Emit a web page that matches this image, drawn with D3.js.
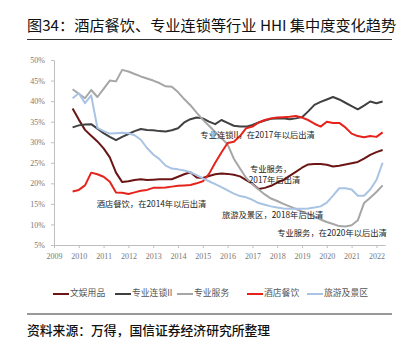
<!DOCTYPE html>
<html><head><meta charset="utf-8">
<script src="https://cdn.jsdelivr.net/npm/d3@7"></script>
<style>
body{margin:0;background:#fff;}
text{font-family:"Noto Sans CJK SC","Noto Sans",sans-serif;}
</style></head>
<body><svg id="c" width="411" height="348"></svg>
<script>
const startYear = 2009.75, step = 0.25;
const seriesNames = ["文娱用品","专业连锁II","专业服务","酒店餐饮","旅游及景区"];
const seriesColors = ["#6b1515","#404040","#a6a6a6","#e5231b","#a8c3e3"];
const wenyu = [38.2,35.5,33.0,31.6,30.2,28.5,26.3,22.6,20.3,20.5,20.8,21.0,20.8,20.9,21.0,21.0,21.0,21.6,22.2,22.7,21.4,21.3,21.8,22.2,22.4,22.3,22.1,21.7,20.8,19.9,18.6,18.9,19.4,20.2,20.8,21.8,22.8,23.8,24.6,24.7,24.7,24.5,24.1,24.3,24.6,24.9,25.2,26.0,26.9,27.6,28.1];
const zhuanyeLiansuo = [33.6,34.1,34.3,34.4,33.3,32.2,31.3,30.5,31.3,32.0,32.7,33.2,33.0,32.9,32.7,32.6,32.9,33.4,34.8,35.6,36.0,35.8,35.0,34.4,35.4,34.7,34.0,33.8,33.8,34.2,34.8,35.3,35.7,35.8,35.8,35.6,35.8,36.1,37.5,39.1,39.8,40.4,41.0,40.4,39.6,38.8,38.0,38.9,39.9,39.5,39.9];
const zhuanyeFuwu = [42.9,41.8,40.7,42.7,41.0,43.0,45.0,44.8,47.6,47.2,46.6,46.0,45.5,45.0,44.4,43.6,43.5,42.2,40.5,39.0,37.2,35.5,34.0,32.5,31.0,29.5,26.0,23.6,21.3,19.8,18.5,17.3,16.3,15.7,15.0,14.4,13.8,13.1,12.5,11.9,11.2,10.6,10.1,9.6,9.5,9.8,11.0,15.2,16.5,17.9,19.5];
const jiudian = [18.0,18.4,19.5,22.6,22.2,21.6,20.4,17.8,17.7,17.4,17.8,18.2,18.4,18.9,18.9,19.0,19.2,19.4,19.5,19.6,20.0,20.5,22.3,25.0,27.5,29.8,30.1,31.5,33.4,33.8,34.8,35.4,35.8,36.0,36.1,36.2,36.4,36.0,35.4,34.5,33.8,35.0,34.7,34.7,33.6,32.1,31.5,31.2,31.5,31.3,32.4];
const lvyou = [40.7,41.9,39.5,41.4,33.5,32.7,32.1,32.2,32.3,32.2,31.7,30.6,28.6,27.0,25.9,24.3,23.6,23.4,23.1,22.7,22.0,21.2,20.5,19.8,19.1,18.3,17.5,16.9,16.6,16.0,15.2,14.8,14.4,14.1,13.9,13.8,13.8,13.8,13.9,14.1,14.4,15.3,17.0,18.8,18.8,18.5,17.0,17.0,18.5,20.8,25.0];
const yearTicks = [2009,2010,2011,2012,2013,2014,2015,2016,2017,2018,2019,2020,2021,2022];
const yTicks = [5,10,15,20,25,30,35,40,45,50];
const annotations = [
  {text:"专业连锁II，在2017年以后出清", t:2014.9, v:31.5},
  {text:"专业服务，", t:2016.9, v:23.4},
  {text:"2017年后出清", t:2016.85, v:20.7},
  {text:"酒店餐饮，在2014年以后出清", t:2010.72, v:14.7},
  {text:"旅游及景区，2018年后出清", t:2015.77, v:12.0},
  {text:"专业服务，在2020年以后出清", t:2018.0, v:7.7}
];
const allSeries = [wenyu, zhuanyeLiansuo, zhuanyeFuwu, jiudian, lvyou];

const svg = d3.select("#c");
const x = d3.scaleLinear().domain([2009, 2022.35]).range([54, 385.1]);
const y = d3.scaleLinear().domain([5, 50]).range([245, 60]);

// title
svg.append("text").attr("x",27).attr("y",30.5).attr("font-size",15.2).attr("fill","#111")
  .text("图34：酒店餐饮、专业连锁等行业 HHI 集中度变化趋势");
svg.append("line").attr("x1",27).attr("x2",392).attr("y1",39.5).attr("y2",39.5).attr("stroke","#333").attr("stroke-width",1);

// axes
const axisColor = "#bfbfbf";
const xa = svg.append("g").attr("transform","translate(0,245)")
  .call(d3.axisBottom(x).tickValues(yearTicks).tickFormat(d3.format("d")).tickSize(3).tickSizeOuter(0));
xa.selectAll("path,line").attr("stroke",axisColor);
xa.selectAll("text").attr("fill","#777").attr("font-size",8).attr("dy","1.0em")
  .style("font-family","'Liberation Serif','DejaVu Serif',serif");
const ya = svg.append("g").attr("transform","translate(54,0)")
  .call(d3.axisLeft(y).tickValues(yTicks).tickFormat(d=>d+"%").tickSize(3).tickSizeOuter(0));
ya.selectAll("path,line").attr("stroke",axisColor);
ya.selectAll("text").attr("fill","#777").attr("font-size",8).attr("dx","-3")
  .style("font-family","'Liberation Serif','DejaVu Serif',serif");

// lines
const line = d3.line().x((d,i)=>x(startYear+i*step)).y(d=>y(d));
allSeries.forEach((s,k)=>{
  svg.append("path").datum(s).attr("d",line).attr("fill","none")
    .attr("stroke",seriesColors[k]).attr("stroke-width",2).attr("stroke-linejoin","round");
});

// annotations
annotations.forEach(a=>{
  svg.append("text").attr("x",x(a.t)).attr("y",y(a.v)).attr("font-size",8.3).attr("fill","#222")
    .attr("dominant-baseline","middle").text(a.text);
});

// legend
const legendX = [53,115,177,247,307];
const lg = svg.append("g");
seriesNames.forEach((n,k)=>{
  lg.append("line").attr("x1",legendX[k]).attr("x2",legendX[k]+16).attr("y1",294).attr("y2",294)
    .attr("stroke",seriesColors[k]).attr("stroke-width",2);
  lg.append("text").attr("x",legendX[k]+17).attr("y",294).attr("dominant-baseline","middle")
    .attr("font-size",8.8).attr("fill","#555").text(n);
});

// footer
svg.append("line").attr("x1",27).attr("x2",392).attr("y1",314).attr("y2",314).attr("stroke","#333").attr("stroke-width",1);
svg.append("text").attr("x",27).attr("y",335).attr("font-size",12.8).attr("font-weight",500).attr("fill","#111")
  .text("资料来源：万得，国信证券经济研究所整理");
</script></body></html>
